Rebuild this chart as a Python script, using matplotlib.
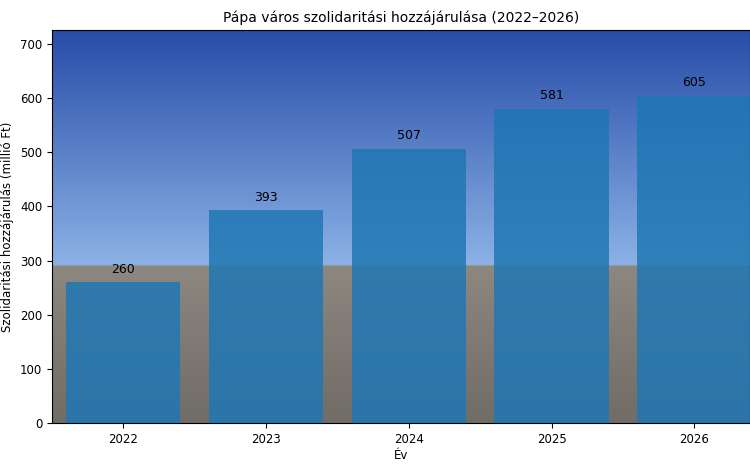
import numpy as np
import matplotlib
matplotlib.use("Agg")
import matplotlib.pyplot as plt

years = [2022, 2023, 2024, 2025, 2026]
values = [260, 393, 507, 581, 605]

plt.rcParams["font.size"] = 8.5

fig = plt.figure(figsize=(7.5, 4.69), dpi=100)
ax = fig.add_axes([0.0693, 0.098, 0.9307, 0.838])

# approximate background photo: sky gradient over a paved square
h = 200
sky_top = np.array([0.15, 0.30, 0.66])
sky_bot = np.array([0.55, 0.70, 0.90])
ground = np.array([0.55, 0.53, 0.50])
img = np.zeros((h, 10, 3))
for i in range(h):
    f = i / h
    if f < 0.6:
        c = sky_top + (sky_bot - sky_top) * (f / 0.6)
    else:
        c = ground * (1 - 0.2 * (f - 0.6) / 0.4)
    img[i, :, :] = c
ax.imshow(img, extent=[2021.5, 2026.39, 0, 726], aspect="auto", zorder=0)

ax.bar(years, values, width=0.8, color="#1f77b4", alpha=0.85, zorder=2)
for x, v in zip(years, values):
    ax.text(x, v + 12, f"{v}", ha="center", va="bottom", fontsize=9, zorder=3)

ax.set_xlim(2021.5, 2026.39)
ax.set_ylim(0, 726)
ax.set_xticks(years)
ax.set_xlabel("Év", labelpad=2)
ax.set_ylabel("Szolidaritási hozzájárulás (millió Ft)", labelpad=4)
ax.set_title("Pápa város szolidaritási hozzájárulása (2022–2026)", fontsize=10)
fig.savefig("out.png", dpi=100)
